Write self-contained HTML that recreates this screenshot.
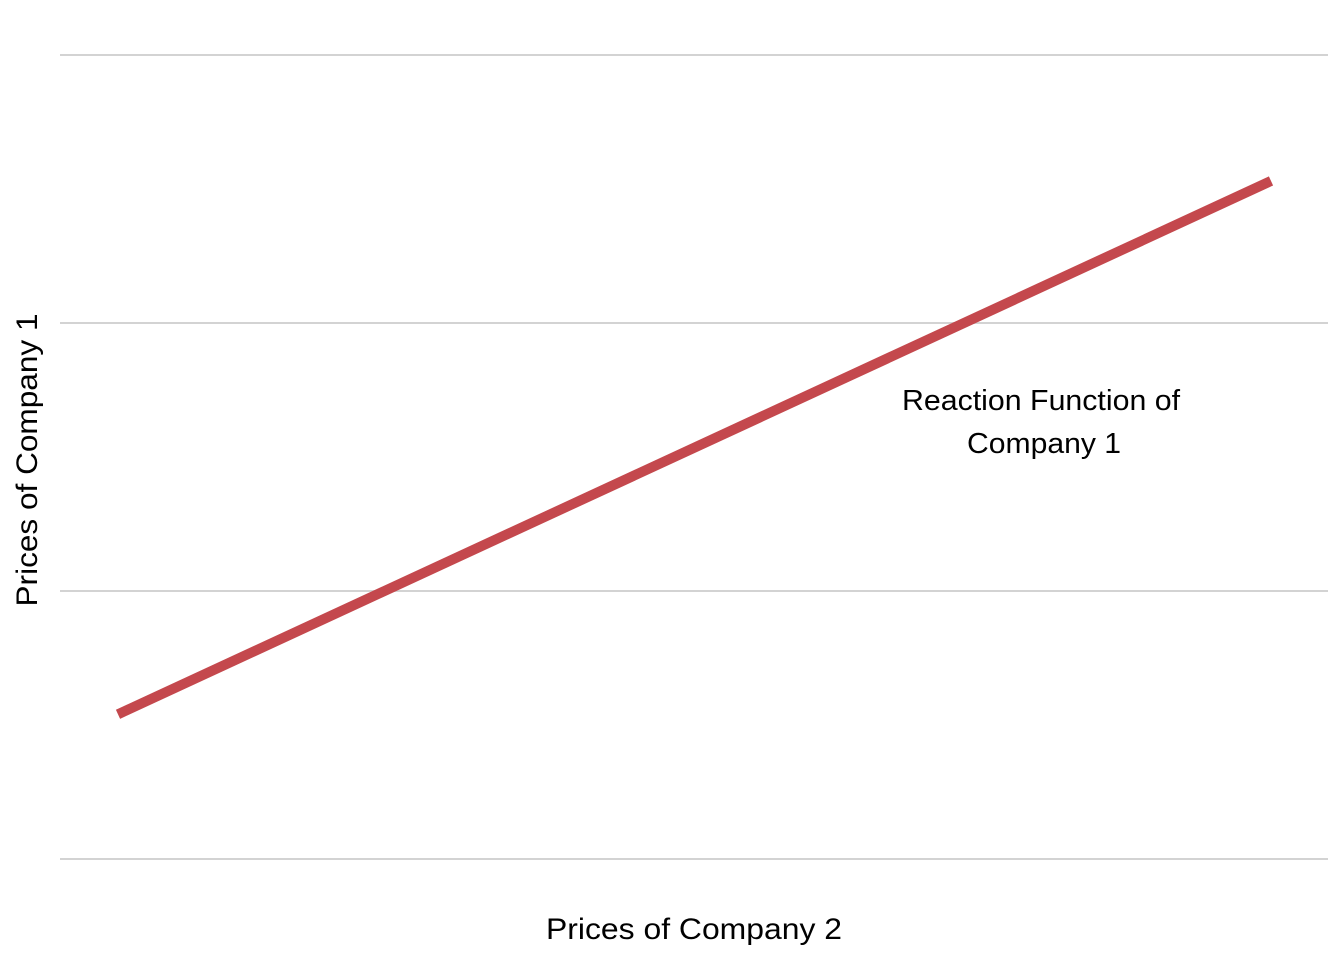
<!DOCTYPE html>
<html>
<head>
<meta charset="utf-8">
<style>
  html, body { margin: 0; padding: 0; background: #ffffff; }
  svg { display: block; font-family: "Liberation Sans", Arial, sans-serif; }
</style>
</head>
<body>
<svg id="chart" width="1344" height="960" viewBox="0 0 1344 960" xmlns="http://www.w3.org/2000/svg">
  <g id="grid"></g>
  <g id="series"></g>
  <text x="694" y="939" text-anchor="middle" font-size="30" textLength="296" lengthAdjust="spacingAndGlyphs" fill="#000">Prices of Company 2</text>
  <text transform="translate(37,460) rotate(-90)" text-anchor="middle" font-size="30" textLength="293" lengthAdjust="spacingAndGlyphs" fill="#000">Prices of Company 1</text>
  <g>
    <text x="1041" y="410" text-anchor="middle" font-size="29" textLength="278" lengthAdjust="spacingAndGlyphs" fill="#000">Reaction Function of</text>
    <text x="1044" y="453" text-anchor="middle" font-size="29" textLength="154" lengthAdjust="spacingAndGlyphs" fill="#000">Company 1</text>
  </g>
</svg>
<script>
const gridValues = [0, 1, 2, 3];
const xValues = [0, 10];
const yValues = [0.54, 2.53];

const NS = "http://www.w3.org/2000/svg";
const xScale = v => 118 + v * 115.3;
const yScale = v => 859 - v * 268;

const grid = document.getElementById('grid');
gridValues.forEach(g => {
  const l = document.createElementNS(NS, 'line');
  l.setAttribute('x1', 60);
  l.setAttribute('x2', 1328);
  l.setAttribute('y1', yScale(g));
  l.setAttribute('y2', yScale(g));
  l.setAttribute('stroke', '#d3d3d3');
  l.setAttribute('stroke-width', 2);
  
  
  grid.appendChild(l);
});

const series = document.getElementById('series');
const pts = xValues.map((x, i) => xScale(x) + ',' + yScale(yValues[i])).join(' ');
const pl = document.createElementNS(NS, 'polyline');
pl.setAttribute('points', pts);
pl.setAttribute('fill', 'none');
pl.setAttribute('stroke', '#c4484d');
pl.setAttribute('stroke-width', 10);


series.appendChild(pl);
</script>
</body>
</html>
